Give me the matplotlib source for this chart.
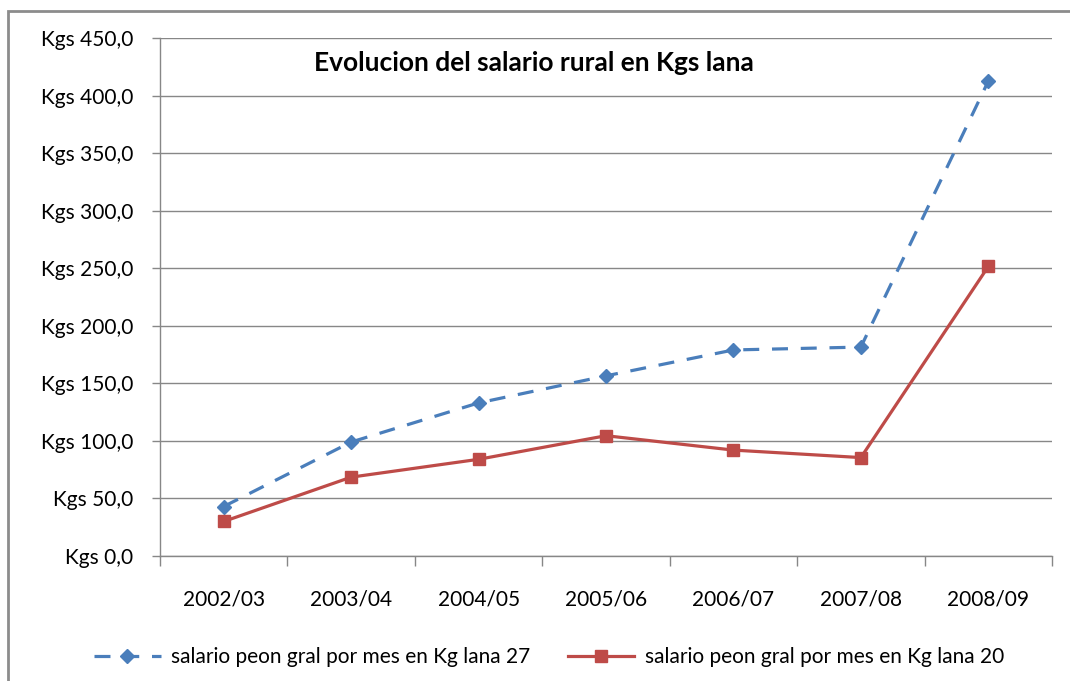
import matplotlib
matplotlib.use("Agg")
import matplotlib.pyplot as plt
from matplotlib.patches import Rectangle
import numpy as np

plt.rcParams['font.family'] = ['Lato', 'DejaVu Sans']

seasons = ['2002/03', '2003/04', '2004/05', '2005/06', '2006/07', '2007/08', '2008/09']
lana_27 = [43.0, 99.0, 133.0, 156.5, 179.0, 181.5, 412.5]
lana_20 = [30.0, 68.5, 84.0, 104.5, 92.0, 85.5, 251.5]
y_ticks = [0, 50, 100, 150, 200, 250, 300, 350, 400, 450]

blue = '#4A7EBB'
red = '#BE4B48'
grey = '#878787'

fig = plt.figure(figsize=(10.7, 6.81), dpi=100)
ax = fig.add_axes([160/1070, 1 - 556/681, 892/1070, 518/681])

x = np.arange(len(seasons))
ax.plot(x, lana_27, color=blue, lw=2.3, dashes=(5, 4), marker='D', markersize=7.5,
        label='salario peon gral por mes en Kg lana 27')
ax.plot(x, lana_20, color=red, lw=2.3, marker='s', markersize=8.5,
        label='salario peon gral por mes en Kg lana 20')

ax.set_xlim(-0.5, len(seasons) - 0.5)
ax.set_ylim(0, 450)
ax.set_yticks(y_ticks)
ax.set_yticklabels(['Kgs {},0'.format(v) for v in y_ticks], fontsize=15)
ax.set_xticks(x)
ax.set_xticklabels(seasons, fontsize=15)
ax.set_xticks(np.arange(len(seasons) + 1) - 0.5, minor=True)
ax.tick_params(axis='x', which='major', length=0, pad=24)
ax.tick_params(axis='x', which='minor', length=7, color=grey, width=1)
ax.tick_params(axis='y', length=6, color=grey, width=1, pad=13)

ax.grid(axis='y', color=grey, lw=1)
ax.set_axisbelow(True)
for side in ['top', 'right']:
    ax.spines[side].set_visible(False)
for side in ['left', 'bottom']:
    ax.spines[side].set_color(grey)
    ax.spines[side].set_linewidth(1)

fig.text(534/1070, 1 - 63/681, 'Evolucion del salario rural en Kgs lana',
         fontsize=19, fontweight='bold', ha='center', va='center')

fig.legend(loc='center', bbox_to_anchor=(549/1070, 1 - 657/681), ncol=2,
           frameon=False, fontsize=15, handlelength=3.2, columnspacing=1.8,
           handletextpad=0.5)

fig.patches.append(Rectangle((8/1070, -0.1), 1.2, 1 - 11/681 + 0.1,
                             transform=fig.transFigure, fill=False,
                             edgecolor='#8c8c8c', lw=2))

fig.savefig('out.png', dpi=100)
